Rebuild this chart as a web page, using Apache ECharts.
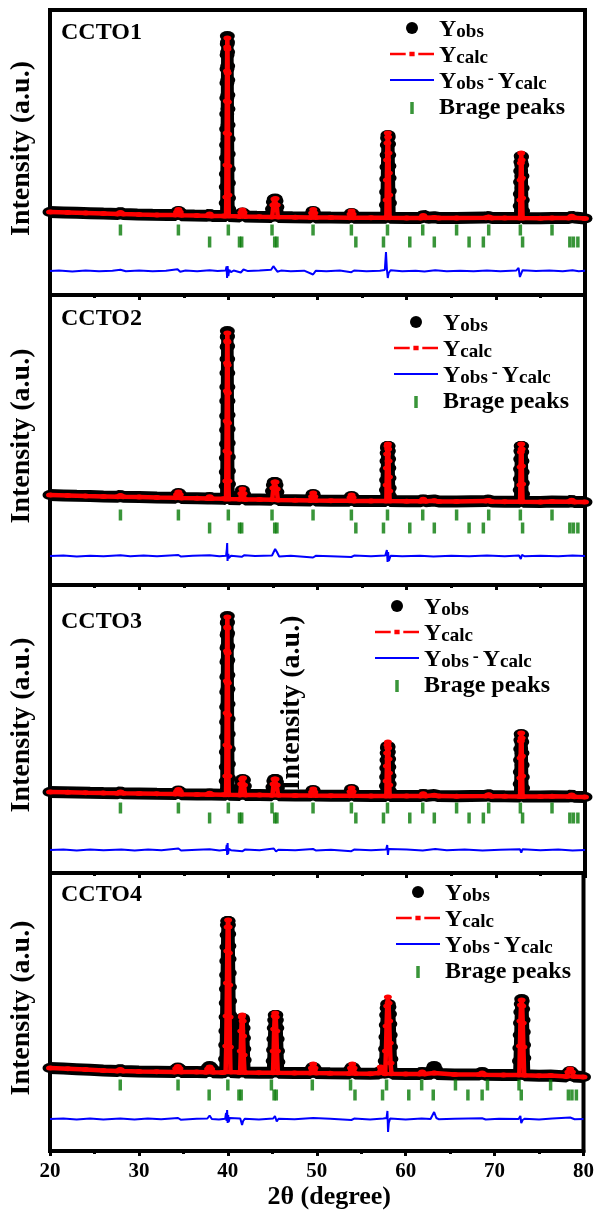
<!DOCTYPE html>
<html>
<head>
<meta charset="utf-8">
<script src="https://cdn.jsdelivr.net/npm/echarts@6/dist/echarts.min.js"></script>
<style>html,body{margin:0;padding:0;background:#fff}#c{width:597px;height:1213px}</style>
</head>
<body>
<div id="c"></div>
<script>
// ---------- DATA (2θ in degrees, intensity in a.u.) ----------
const panelNames = ['CCTO1', 'CCTO2', 'CCTO3', 'CCTO4'];
const xTicks = [20, 30, 40, 50, 60, 70, 80];

// Bragg reflection positions (same phase for all samples)
const braggRow1 = [27.9, 34.4, 40.0, 44.9, 49.5, 53.8, 57.85, 61.8, 65.6, 69.2, 72.75, 76.3];
const braggRow2 = [37.9, 41.25, 41.5, 45.2, 45.45, 54.3, 57.4, 60.35, 63.1, 67.0, 68.6, 73.0, 78.3, 78.7, 79.2];
// vertical offsets of the two tick rows, per panel
const braggLevels1 = [65, 53];
const braggLevels2 = [70, 57];
const braggLevels3 = [65, 55];
const braggLevels4 = [66, 56];

const obs1 = [[20,83],[21.5,82.6],[23,82.2],[24.5,81.8],[26,81.4],[27.6,81.1],[27.9,82.2],[28.2,81],[29.8,80.6],[31.5,80.2],[33.2,79.9],[34.1,80],[34.25,82.5],[34.4,84],[34.55,82.5],[34.7,79.8],[36.2,79.4],[37.6,79.2],[37.9,80.5],[38.2,79.1],[39.5,78.9],
[39.74,79],[39.76,92],[39.77,108],[39.78,121],[39.79,137],[39.8,150],[39.81,166],[39.82,181],[39.83,197],[39.84,212],[39.85,226],[39.86,240],[39.875,251],[39.89,259],[39.905,253],[39.92,243],[39.93,229],[39.94,215],[39.95,200],[39.96,186],[39.97,170],[39.98,156],[39.99,141],[40.0,126],[40.01,112],[40.02,97],[40.04,86],[40.07,79],
[41.3,78.6],[41.45,81.5],[41.58,82.5],[41.71,81],[41.86,78.5],[43.2,78.2],
[44.85,78],[44.95,86],[45.05,93],[45.15,96],[45.25,96.5],[45.35,94],[45.45,88],[45.58,78],
[47.2,77.8],[49.25,77.6],[49.38,81],[49.5,84],[49.62,81],[49.75,77.5],[51.5,77.4],
[53.58,77.3],[53.7,80],[53.82,82],[53.94,80],[54.06,77.3],[55.7,77.2],
[57.7,77.2],[57.73,90],[57.75,103],[57.77,116],[57.79,128],[57.81,140],[57.83,150],[57.86,157],[57.9,160],[57.94,158],[57.97,151],[57.99,140],[58.01,129],[58.03,117],[58.05,104],[58.07,92],[58.1,77.2],
[60,77.1],[61.55,77],[61.7,78.5],[61.85,79.5],[62.0,78],[62.4,77.2],[63.1,77.8],[63.6,77],[65.6,76.9],[68.8,77.4],[69.2,78],[69.6,77],[71,76.9],
[72.7,76.9],[72.73,89],[72.75,101],[72.77,113],[72.79,124],[72.81,133],[72.84,139],[72.88,138],[72.91,130],[72.93,119],[72.95,107],[72.97,95],[73.0,84],[73.03,76.8],
[75,76.7],[76.3,77],[78.2,77],[78.5,78.5],[78.8,77.5],[80,76.6]];
const calc1 = [[20,83],[22,82.5],[24,82],[26,81.5],[27.6,81.1],[27.9,82.6],[28.2,81],[30,80.5],[32,80],[34.1,79.9],[34.25,83],[34.4,85.5],[34.55,83],[34.7,79.8],[36.5,79.4],[37.7,79.2],[37.9,81],[38.1,79.1],[39.5,78.9],
[39.74,79],[39.77,98],[39.79,130],[39.81,162],[39.83,194],[39.85,224],[39.87,248],[39.89,257],[39.91,246],[39.93,222],[39.95,193],[39.97,161],[39.99,129],[40.01,100],[40.05,79],
[41.33,78.6],[41.46,82.5],[41.58,85],[41.7,82.5],[41.84,78.5],[43.5,78.2],
[44.92,78],[45.05,90],[45.17,96],[45.3,96.5],[45.42,90],[45.55,77.9],
[47.5,77.8],[49.28,77.6],[49.4,82],[49.52,85.5],[49.64,82],[49.76,77.5],[51.5,77.4],
[53.6,77.3],[53.71,81],[53.82,84],[53.93,81],[54.04,77.3],[56,77.2],
[57.72,77.2],[57.75,95],[57.78,115],[57.81,135],[57.84,152],[57.88,162],[57.92,158],[57.96,142],[58.0,122],[58.04,100],[58.08,77.2],
[60,77.1],[61.6,77],[61.85,79.5],[62.1,77.2],[63.1,77.6],[63.6,77],[65.6,76.9],[68.9,77.3],[69.2,78],[69.5,77],[71,76.9],
[72.72,77],[72.75,95],[72.78,115],[72.81,132],[72.85,142],[72.89,135],[72.92,117],[72.95,97],[73.0,77],
[75,76.7],[76.3,77],[78.2,77],[78.5,78.8],[78.8,77.3],[80,76.6]];
const diff1 = [[20,24],[21,24.6],[22.5,23.6],[24,24.4],[25.5,23.8],[27,24.3],[27.9,25.2],[28.5,23.8],[30,24.4],[31.5,23.7],[33,24.3],[34.3,25.8],[34.6,23.2],[35.2,24.4],[36.5,23.8],[37.9,24.8],[38.8,23.9],[39.7,24.4],[39.8,28.5],[39.86,17],[39.92,29],[40.0,19],[40.1,25],[40.3,22.8],[40.6,24.5],[41.4,22.5],[41.7,25.5],[42.2,23.9],[43.5,24.4],[44.8,25.2],[45.05,28.8],[45.25,28],[45.5,23.3],[45.9,24.4],[47,23.8],[48.5,24.3],[49.5,20.5],[49.8,24.2],[51,23.8],[52.5,24.4],[53.8,22.8],[54.1,24.5],[55.5,23.8],[57,24.2],[57.55,25],[57.68,43],[57.78,26],[57.88,17],[57.98,22],[58.2,24.8],[59.5,23.8],[61,24.3],[62,23.5],[63.2,24.8],[64.5,23.8],[66,24.3],[67.5,23.8],[69,24.6],[70.5,23.8],[72.3,24.6],[72.55,27],[72.7,18],[72.82,20],[73,24.8],[74.5,23.9],[76,24.4],[77.5,23.8],[78.6,24.8],[79.3,23.8],[80,24.2]];

const obs2 = [[20,90],[21.5,89.6],[23,89.2],[24.5,88.9],[26,88.6],[27.6,88.3],[27.9,89.3],[28.2,88.2],[30,88],[32,87.5],[34.1,87.2],[34.25,90],[34.4,92],[34.55,90],[34.7,87.1],[36.5,86.8],[37.7,86.6],[37.9,88],[38.1,86.5],[39.5,86.3],
[39.74,86],[39.76,99],[39.77,113],[39.78,127],[39.79,141],[39.8,155],[39.81,169],[39.82,184],[39.83,198],[39.84,212],[39.85,226],[39.86,238],[39.875,248],[39.89,254],[39.905,249],[39.92,239],[39.93,226],[39.94,212],[39.95,198],[39.96,184],[39.97,170],[39.98,156],[39.99,142],[40.0,128],[40.01,114],[40.02,101],[40.04,91],[40.07,86],
[41.3,85.8],[41.45,91],[41.58,95],[41.71,91],[41.86,85.6],[43.5,85.4],
[44.85,85.2],[44.95,94],[45.05,100],[45.15,103],[45.25,103],[45.35,100],[45.45,93],[45.58,85],
[47.5,84.8],[49.25,84.6],[49.38,88],[49.5,91],[49.62,88],[49.75,84.5],[51.5,84.3],
[53.58,84.2],[53.7,87],[53.82,89],[53.94,87],[54.06,84.1],[56,84],
[57.7,84],[57.73,95],[57.75,105],[57.77,115],[57.79,124],[57.81,132],[57.84,137],[57.88,139],[57.92,139],[57.95,134],[57.98,126],[58.0,117],[58.02,107],[58.04,97],[58.07,89],[58.1,84],
[60,83.8],[61.6,83.7],[61.85,85.5],[62.1,83.7],[63.1,84.5],[63.6,83.6],[65.6,83.5],[68.8,84],[69.2,84.5],[69.6,83.4],[71,83.3],
[72.7,83.3],[72.73,95],[72.75,106],[72.77,116],[72.79,126],[72.81,134],[72.84,139],[72.88,139],[72.91,133],[72.93,124],[72.95,113],[72.97,102],[73.0,91],[73.03,83.2],
[75,83.1],[76.3,83.5],[78.2,83.2],[78.5,84.5],[78.8,83],[80,82.9]];
const calc2 = [[20,90],[22,89.5],[24,89],[26,88.6],[27.6,88.3],[27.9,89.6],[28.2,88.2],[30,88],[32,87.5],[34.1,87.2],[34.25,90.5],[34.4,93],[34.55,90.5],[34.7,87.1],[36.5,86.8],[37.7,86.6],[37.9,88.3],[38.1,86.5],[39.5,86.3],
[39.74,86],[39.77,104],[39.79,134],[39.81,164],[39.83,194],[39.85,222],[39.87,244],[39.89,252],[39.91,243],[39.93,220],[39.95,192],[39.97,162],[39.99,132],[40.01,104],[40.05,86],
[41.33,85.8],[41.46,91.5],[41.58,96],[41.7,91.5],[41.84,85.6],[43.5,85.4],
[44.92,85.2],[45.05,97],[45.17,103],[45.3,103],[45.42,96],[45.55,85],
[47.5,84.8],[49.28,84.6],[49.4,88.5],[49.52,92],[49.64,88.5],[49.76,84.5],[51.5,84.3],
[53.6,84.2],[53.71,87.5],[53.82,90],[53.93,87.5],[54.04,84.1],[56,84],
[57.72,84],[57.75,100],[57.78,117],[57.81,131],[57.85,139],[57.89,141],[57.93,136],[57.97,124],[58.01,108],[58.05,94],[58.09,84],
[60,83.8],[61.6,83.7],[61.85,85.8],[62.1,83.7],[63.1,84.3],[63.6,83.6],[65.6,83.5],[68.9,83.9],[69.2,84.6],[69.5,83.4],[71,83.3],
[72.72,83.3],[72.75,100],[72.78,118],[72.81,133],[72.85,141],[72.89,136],[72.92,119],[72.95,101],[73.0,83.2],
[75,83.1],[76.3,83.5],[78.2,83.2],[78.5,84.8],[78.8,83],[80,82.9]];
const diff2 = [[20,29],[21.5,29.5],[23,28.6],[24.5,29.3],[26,28.7],[27.9,29.8],[29,28.8],[30.5,29.4],[32,28.7],[34.4,30],[34.7,28.4],[36,29.3],[37.9,29.8],[39,28.8],[39.75,29.3],[39.83,36],[39.87,42],[39.91,24],[39.95,22],[40.0,31],[40.06,27],[40.3,29.2],[41.5,28.2],[41.8,29.8],[43,28.9],[44.9,29.5],[45.25,36],[45.45,33],[45.7,28.5],[47,29.3],[49.5,27.5],[49.8,29.2],[51.5,28.8],[53.8,28],[54.1,29.4],[56,28.8],[57.6,29.5],[57.78,35],[57.86,23],[57.92,33],[58.0,24],[58.2,29.3],[59.5,28.7],[61.5,29.3],[63,28.6],[65,29.3],[67,28.7],[69,29.4],[71,28.7],[72.6,29.5],[72.8,26],[72.92,30],[73.2,28.8],[75,29.3],[77,28.7],[78.6,29.6],[80,29]];

const obs3 = [[20,81],[21.5,80.8],[23,80.5],[24.5,80.2],[26,80],[27.6,79.8],[27.9,80.8],[28.2,79.7],[30,79.5],[32,79.2],[34.1,79],[34.25,81],[34.4,82.5],[34.55,81],[34.7,78.8],[36.5,78.6],[37.7,78.4],[37.9,79.5],[38.1,78.4],[39.5,78.3],
[39.74,78.3],[39.76,92],[39.77,106],[39.78,121],[39.79,136],[39.8,151],[39.81,166],[39.82,181],[39.83,196],[39.84,211],[39.85,225],[39.86,238],[39.875,250],[39.89,257],[39.905,251],[39.92,240],[39.93,227],[39.94,213],[39.95,198],[39.96,184],[39.97,169],[39.98,154],[39.99,139],[40.0,124],[40.01,109],[40.02,95],[40.04,85],[40.07,78.2],
[41.3,78],[41.4,86],[41.5,92],[41.6,94],[41.7,93],[41.8,87],[41.9,78],[43.5,77.9],
[44.9,77.8],[45.0,86],[45.1,92],[45.2,94],[45.3,94],[45.4,91],[45.5,85],[45.62,77.8],
[47.5,77.6],[49.25,77.4],[49.38,80.5],[49.5,83],[49.62,80.5],[49.75,77.4],[51.5,77.3],
[53.58,77.2],[53.7,81],[53.82,84],[53.94,81],[54.06,77.2],[56,77.1],
[57.7,77.1],[57.73,87],[57.75,96],[57.77,105],[57.79,113],[57.81,120],[57.84,125],[57.88,127],[57.92,126],[57.95,121],[57.98,114],[58.0,106],[58.02,97],[58.04,89],[58.07,82],[58.1,77],
[60,77],[61.6,77],[61.85,79],[62.1,77],[63.1,78],[63.6,76.9],[65.6,76.8],[68.8,77.2],[69.2,78],[69.6,76.8],[71,76.7],
[72.7,76.6],[72.73,89],[72.75,101],[72.77,113],[72.79,124],[72.81,133],[72.84,139],[72.88,138],[72.91,131],[72.93,120],[72.95,108],[72.97,96],[73.0,85],[73.03,76.5],
[75,76.4],[76.3,76.8],[78.2,76.5],[78.5,77.8],[78.8,76.3],[80,76]];
const calc3 = [[20,81],[22,80.7],[24,80.3],[26,80],[27.6,79.8],[27.9,81],[28.2,79.7],[30,79.5],[32,79.2],[34.1,79],[34.25,81.5],[34.4,83.5],[34.55,81.5],[34.7,78.8],[36.5,78.6],[37.7,78.4],[37.9,79.8],[38.1,78.4],[39.5,78.3],
[39.74,78.3],[39.77,97],[39.79,128],[39.81,160],[39.83,192],[39.85,222],[39.87,246],[39.89,256],[39.91,245],[39.93,220],[39.95,190],[39.97,158],[39.99,126],[40.01,97],[40.05,78.2],
[41.33,78],[41.44,89],[41.55,94],[41.65,95],[41.76,88],[41.88,78],[43.5,77.9],
[44.95,77.8],[45.07,89],[45.18,94],[45.3,94],[45.42,88],[45.58,77.8],
[47.5,77.6],[49.28,77.4],[49.4,81],[49.52,84],[49.64,81],[49.76,77.4],[51.5,77.3],
[53.6,77.2],[53.71,81.5],[53.82,85],[53.93,81.5],[54.04,77.2],[56,77.1],
[57.72,77.1],[57.75,92],[57.78,107],[57.81,120],[57.85,128],[57.89,131],[57.93,125],[57.97,114],[58.01,100],[58.05,88],[58.09,77],
[60,77],[61.6,77],[61.85,79.3],[62.1,77],[63.1,77.8],[63.6,76.9],[65.6,76.8],[68.9,77.1],[69.2,78.2],[69.5,76.8],[71,76.7],
[72.72,76.6],[72.75,95],[72.78,115],[72.81,132],[72.85,140],[72.89,135],[72.92,117],[72.95,97],[73.0,76.5],
[75,76.4],[76.3,76.8],[78.2,76.5],[78.5,78],[78.8,76.3],[80,76]];
const diff3 = [[20,23],[21.5,23.6],[23,22.5],[24.5,23.4],[26,22.7],[28,23.5],[29.5,22.6],[31,23.4],[32.5,22.7],[34.4,24.5],[34.7,22.5],[36.5,23.3],[37.9,23.8],[39,22.6],[39.75,23.3],[39.82,28],[39.87,18],[39.92,30],[39.97,19],[40.05,24],[40.3,22.8],[41.6,21.8],[41.9,23.6],[43.5,22.8],[45.1,24.5],[45.35,21.5],[45.6,23.3],[47.5,22.7],[49.5,24],[49.8,22.6],[51.5,23.3],[53.8,21.8],[54.1,23.4],[56,22.7],[57.7,23.5],[57.82,28],[57.9,18],[57.98,24],[58.2,22.8],[60,23.4],[61.8,22.6],[63.2,24],[64.5,22.7],[66.5,23.4],[68.5,22.6],[70.5,23.3],[72.7,23.8],[72.85,20.5],[73,23.8],[75,22.7],[77,23.4],[78.6,22.6],[80,23]];

const obs4 = [[20,83],[21.5,82.4],[23,81.8],[24.5,81.2],[26,80.6],[27.6,80.1],[27.9,81.2],[28.2,80],[30,79.5],[32,79.3],[34.05,79.1],[34.2,82],[34.38,83.5],[34.56,82],[34.72,79],[36.5,78.9],[37.6,78.8],[37.75,83],[37.95,85],[38.15,83],[38.3,78.8],[39.4,78.6],
[39.7,79],[39.74,92],[39.76,106],[39.78,120],[39.8,134],[39.82,148],[39.84,162],[39.86,176],[39.88,190],[39.9,204],[39.92,216],[39.95,226],[39.99,230],[40.03,230],[40.07,226],[40.1,217],[40.12,205],[40.14,192],[40.16,178],[40.18,164],[40.2,150],[40.22,136],[40.24,122],[40.26,108],[40.28,94],[40.32,79],
[41.35,78.4],[41.42,90],[41.46,101],[41.5,112],[41.54,122],[41.58,130],[41.63,133],[41.68,131],[41.72,123],[41.76,113],[41.8,102],[41.84,91],[41.9,78.4],[43.5,78.3],
[45.05,78.2],[45.1,90],[45.14,101],[45.18,112],[45.22,123],[45.27,131],[45.33,136],[45.4,136],[45.46,131],[45.51,123],[45.55,112],[45.59,100],[45.63,89],[45.68,78.2],
[47.5,78.1],[49.3,78],[49.45,82],[49.6,84],[49.75,82],[49.9,78],[51.5,77.8],
[53.7,77.6],[53.85,82],[54.0,84],[54.15,82],[54.3,77.6],[56,77.3],[57.0,77.5],[57.2,80],[57.4,79],
[57.65,77.3],[57.7,90],[57.74,102],[57.78,114],[57.82,126],[57.86,136],[57.91,143],[57.97,147],[58.05,147],[58.12,144],[58.18,137],[58.22,127],[58.26,116],[58.3,104],[58.34,92],[58.4,80],[58.48,77.2],
[60,77],[61.6,77],[61.85,79],[62.1,77],[62.9,77.2],[63.05,82],[63.2,85],[63.35,82],[63.5,77],[65.5,76.6],[68.3,76.4],[68.6,79],[68.9,76.3],[71,76],
[72.75,76],[72.8,90],[72.84,103],[72.88,116],[72.91,128],[72.95,139],[73.0,147],[73.05,152],[73.11,150],[73.16,142],[73.2,131],[73.23,119],[73.26,106],[73.29,93],[73.35,75.7],
[75,75.3],[76.3,75.4],[78.1,74.6],[78.3,78],[78.5,80],[78.7,78],[78.9,74.4],[80,74]];
const calc4 = [[20,83],[22,82.2],[24,81.4],[26,80.6],[27.6,80.1],[27.9,81.5],[28.2,80],[30,79.5],[32,79.3],[34.05,79.1],[34.2,82.5],[34.38,84.5],[34.56,82.5],[34.72,79],[36.5,78.9],[37.6,78.8],[37.78,82],[37.95,84],[38.12,82],[38.3,78.8],[39.4,78.6],
[39.75,79],[39.82,105],[39.86,135],[39.9,168],[39.94,200],[39.98,224],[40.03,231],[40.08,224],[40.12,198],[40.16,166],[40.2,134],[40.24,104],[40.3,79],
[41.38,78.4],[41.45,100],[41.51,120],[41.57,134],[41.62,136],[41.67,130],[41.72,115],[41.78,96],[41.88,78.4],[43.5,78.3],
[45.08,78.2],[45.15,100],[45.21,122],[45.27,135],[45.33,138],[45.39,134],[45.45,120],[45.52,100],[45.62,78.2],
[47.5,78.1],[49.3,78],[49.45,83],[49.6,87],[49.75,83],[49.9,78],[51.5,77.8],
[53.7,77.6],[53.85,83],[54.0,87],[54.15,83],[54.3,77.6],[56,77.3],[57.0,78],[57.2,84],[57.45,80],
[57.7,77.3],[57.78,100],[57.85,125],[57.92,145],[58.0,154],[58.08,148],[58.15,130],[58.22,108],[58.3,88],[58.4,77.2],
[60,77],[61.6,77],[61.85,79],[62.1,77],[63.2,78],[65.5,76.6],[68.3,76.4],[68.6,78],[68.9,76.3],[71,76],
[72.78,76],[72.85,105],[72.91,130],[72.97,146],[73.04,151],[73.11,145],[73.17,128],[73.24,104],[73.33,75.7],
[75,75.3],[76.3,75.4],[78.1,74.6],[78.3,79],[78.5,82],[78.7,79],[78.9,74.4],[80,74]];
const diff4 = [[20,32],[21.5,32.5],[23,31.5],[24.5,32.4],[26,31.6],[27.9,32.6],[29.5,31.6],[31,32.4],[32.5,31.7],[34.4,33],[34.7,31.3],[36.5,32.3],[37.7,32.5],[37.95,35.5],[38.2,32],[39,31.5],[39.7,32.3],[39.8,38],[39.86,30],[39.92,41],[39.98,28],[40.04,36],[40.1,29],[40.2,33],[40.4,31.5],[41.4,32.5],[41.6,26],[41.72,30],[41.9,32.2],[43.5,31.6],[45.1,32.5],[45.3,35],[45.5,29.5],[45.7,32.3],[47.5,31.7],[49.6,33],[49.8,31.4],[51.5,32.2],[53.9,31],[54.2,32.4],[56,31.6],[57.5,32.4],[57.85,33],[57.95,40],[58.02,19],[58.1,28],[58.25,32.5],[60,31.6],[61.8,32.4],[62.8,32],[63.2,39],[63.45,33],[63.7,31.8],[65.5,32.3],[68.6,32.8],[69,31.5],[70.5,32.3],[72.7,32],[72.9,35],[73.0,28],[73.15,31],[73.4,32.3],[75,31.6],[76.5,32.4],[78.5,33.5],[79,31.8],[80,32]];

// ---------- CHART ----------
const obsAll = [obs1, obs2, obs3, obs4];
const calcAll = [calc1, calc2, calc3, calc4];
const diffAll = [diff1, diff2, diff3, diff4];
const braggLevelsAll = [braggLevels1, braggLevels2, braggLevels3, braggLevels4];

const SERIF = '"Liberation Serif", "Times New Roman", serif';
const grids = [
  {top: 10, height: 285},
  {top: 295, height: 290},
  {top: 585, height: 288},
  {top: 873, height: 278}
];
const legendPos = [[390, 18], [394, 312], [375, 596], [396, 882]];
const titleTops = [21, 307, 610, 883];

const option = {
  animation: false,
  backgroundColor: '#fff',
  title: panelNames.map((t, i) => ({
    text: t, left: 61, top: titleTops[i], padding: 0,
    textStyle: {fontFamily: SERIF, fontWeight: 'bold', fontSize: 24, color: '#000'}
  })),
  grid: grids.map(g => ({left: 48, right: 12, top: g.top, height: g.height, show: true,
    borderColor: '#000', borderWidth: 4, backgroundColor: 'transparent'})),
  xAxis: grids.map((g, i) => ({
    type: 'value', gridIndex: i, min: xTicks[0], max: xTicks[xTicks.length - 1], interval: 10,
    axisLine: {show: true, lineStyle: {color: '#000', width: 4}},
    axisTick: {show: true, inside: false, length: 5, lineStyle: {color: '#000', width: 3}},
    minorTick: {show: true, splitNumber: 2, length: 3, lineStyle: {color: '#000', width: 3}},
    splitLine: {show: false}, minorSplitLine: {show: false},
    axisLabel: {show: i === 3, margin: 10, fontFamily: SERIF, fontWeight: 'bold', fontSize: 21, color: '#000'},
    name: i === 3 ? '2θ (degree)' : '', nameLocation: 'middle', nameGap: 33,
    nameTextStyle: {fontFamily: SERIF, fontWeight: 'bold', fontSize: 26, color: '#000', padding: [0, 0, 0, 25]}
  })),
  yAxis: grids.map((g, i) => ({
    type: 'value', gridIndex: i, min: 0, max: g.height,
    axisLine: {show: false}, axisTick: {show: false}, axisLabel: {show: false}, splitLine: {show: false},
    name: 'Intensity (a.u.)', nameLocation: 'middle', nameGap: 14, nameRotate: 90,
    nameTextStyle: {fontFamily: SERIF, fontWeight: 'bold', fontSize: 28, color: '#000', padding: [0, 0, 0, 8]}
  })),
  legend: grids.map((g, i) => ({
    orient: 'vertical', left: legendPos[i][0], top: legendPos[i][1],
    itemWidth: 44, itemHeight: 12, itemGap: 2, padding: 0, selectedMode: false,
    data: [
      {name: 'Yobs', icon: 'circle'},
      {name: 'Ycalc', icon: 'path://M0,1h15v2.5h-15zM18.5,0h5v4.5h-5zM27,1h15v2.5h-15z'},
      {name: 'Yobs - Ycalc', icon: 'path://M0,0h44v2h-44z'},
      {name: 'Brage peaks', icon: 'path://M0,0h3.5v12h-3.5z'}
    ],
    formatter: function (n) {
      if (n === 'Yobs') return '{y|Y}{s|obs}';
      if (n === 'Ycalc') return '{y|Y}{s|calc}';
      if (n === 'Yobs - Ycalc') return '{y|Y}{s|obs}{m|-}{y|Y}{s|calc}';
      return '{b|' + n + '}';
    },
    textStyle: {
      fontFamily: SERIF, fontWeight: 'bold', fontSize: 23, color: '#000',
      rich: {
        y: {fontFamily: SERIF, fontWeight: 'bold', fontSize: 24, color: '#000', lineHeight: 20, verticalAlign: 'top'},
        s: {fontFamily: SERIF, fontWeight: 'bold', fontSize: 19, color: '#000', lineHeight: 20, verticalAlign: 'top', padding: [5, 0, 0, 0]},
        m: {fontFamily: SERIF, fontWeight: 'bold', fontSize: 18, color: '#000', lineHeight: 20, verticalAlign: 'top', padding: [0, 4, 0, 4]},
        b: {fontFamily: SERIF, fontWeight: 'bold', fontSize: 24, color: '#000', lineHeight: 25}
      }
    }
  })),
  graphic: [{
    type: 'text', x: 292, y: 703, rotation: Math.PI / 2,
    style: {text: 'Intensity (a.u.)', font: 'bold 28px ' + SERIF, fill: '#000', textAlign: 'center', textVerticalAlign: 'middle'},
    z: 50
  }],
  series: []
};

for (let i = 0; i < 4; i++) {
  option.series.push({
    name: 'Yobs', type: 'line', xAxisIndex: i, yAxisIndex: i, data: obsAll[i],
    symbol: 'circle', symbolSize: [15, 10], showAllSymbol: true,
    lineStyle: {color: '#000', width: 12}, itemStyle: {color: '#000'}, z: 2
  });
  option.series.push({
    name: 'Ycalc', type: 'line', xAxisIndex: i, yAxisIndex: i, data: calcAll[i],
    symbol: 'circle', symbolSize: [8, 5], showAllSymbol: true,
    lineStyle: {color: '#ff0000', width: 4.5}, itemStyle: {color: '#ff0000'}, z: 3
  });
  option.series.push({
    name: 'Yobs - Ycalc', type: 'line', xAxisIndex: i, yAxisIndex: i, data: diffAll[i],
    symbol: 'none', lineStyle: {color: '#0000ff', width: 2}, itemStyle: {color: '#0000ff'}, z: 3
  });
  const lv = braggLevelsAll[i];
  const bd = braggRow1.map(x => [x, lv[0]]).concat(braggRow2.map(x => [x, lv[1]]));
  option.series.push({
    name: 'Brage peaks', type: 'scatter', xAxisIndex: i, yAxisIndex: i, data: bd,
    symbol: 'rect', symbolSize: [3.5, 11], itemStyle: {color: '#087a08'}, z: 3
  });
}

const chart = echarts.init(document.getElementById('c'), null, {renderer: 'canvas'});
chart.setOption(option);
</script>
</body>
</html>
